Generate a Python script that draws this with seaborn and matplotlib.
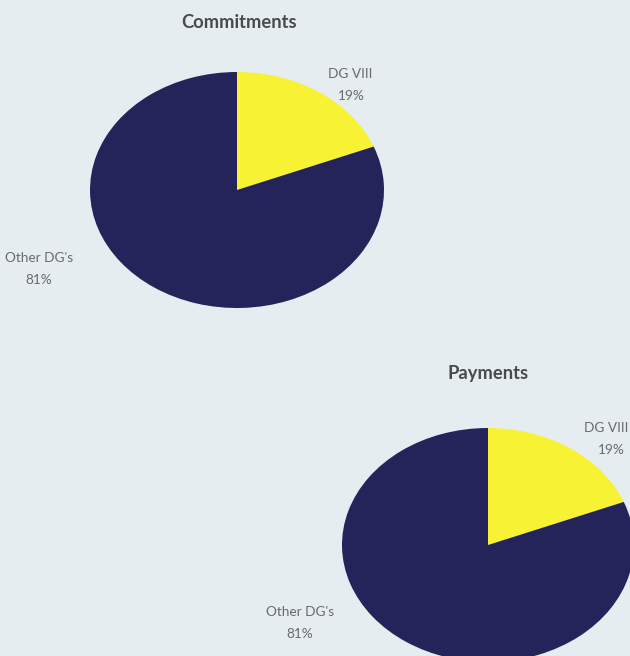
import matplotlib
matplotlib.use("Agg")
import matplotlib.pyplot as plt
import seaborn as sns

sns.set_theme(style="white")
plt.rcParams['font.family'] = ['Lato', 'DejaVu Sans']

labels = ["DG VIII", "Other DG's"]
commitments = [19, 81]
payments = [19, 81]
pct_labels_c = ["19%", "81%"]
pct_labels_p = ["19%", "81%"]
titles = ["Commitments", "Payments"]

W, H = 630, 656
bg = "#e6edf1"
colors = ["#f7f233", "#24245a"]
txt_col = "#6a6a6a"

fig = plt.figure(figsize=(W / 100, H / 100), dpi=100, facecolor=bg)

def px_axes(cx, cy, rx, ry):
    return fig.add_axes([(cx - rx) / W, 1 - (cy + ry) / H, 2 * rx / W, 2 * ry / H])

def draw(values, cx, cy, rx, ry):
    ax = px_axes(cx, cy, rx, ry)
    ax.pie(values, colors=colors, startangle=90, counterclock=False, radius=1,
           wedgeprops=dict(linewidth=0))
    ax.set_aspect('auto')
    ax.set_xlim(-1, 1)
    ax.set_ylim(-1, 1)
    ax.axis('off')
    ax.patch.set_alpha(0)

draw(commitments, 237, 190, 147, 118)
draw(payments, 488, 545, 146, 117)

def t(x, y, s, **kw):
    fig.text(x / W, 1 - y / H, s, ha='center', va='center', **kw)

tk = dict(fontsize=13.2, fontweight='bold', color='#4a4a4a')
t(239, 22, titles[0], **tk)
t(488, 373, titles[1], **tk)

lk = dict(fontsize=9.8, color=txt_col)
t(350, 74, labels[0], **lk)
t(351, 96, pct_labels_c[0], **lk)
t(39, 258, labels[1], **lk)
t(39, 280, pct_labels_c[1], **lk)
t(606, 428, labels[0], **lk)
t(611, 450, pct_labels_p[0], **lk)
t(300, 612, labels[1], **lk)
t(300, 634, pct_labels_p[1], **lk)

fig.savefig("out.png", dpi=100, facecolor=bg)
